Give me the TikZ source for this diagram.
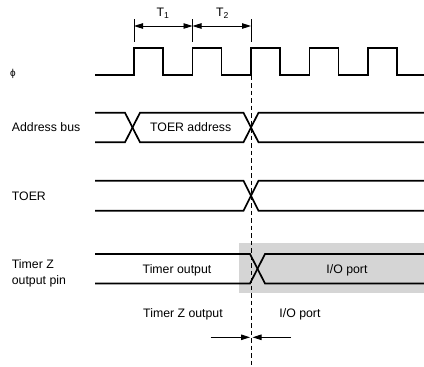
\documentclass[tikz,border=0pt]{standalone}
\usepackage{fontspec}
\setmainfont{Liberation Sans}
\usetikzlibrary{arrows.meta}
\begin{document}
\begin{tikzpicture}[x=1pt,y=-1pt,
  sig/.style={line width=1.7pt,line join=miter},
  dimline/.style={line width=0.9pt},
  dimarrow/.style={line width=0.9pt,{Triangle[length=9pt,width=5.5pt]}-{Triangle[length=9pt,width=5.5pt]}},
  onearrow/.style={line width=0.9pt,-{Triangle[length=9pt,width=5.5pt]}},
  marker/.style={line width=0.9pt,dash pattern=on 4.5pt off 3pt},
  lbl/.style={inner sep=0pt,font=\fontsize{12.3}{16}\selectfont},
  shade/.style={fill=gray!33,draw=none}]
\useasboundingbox (0,0) rectangle (424,367);
% grey region
\fill[shade] (239,243.3) rectangle (424,293.3);
% clock
\draw[sig] (95,74.7)
  \foreach \r in {134,192.5,251,309.5,368}{
    -- (\r,74.7) -- (\r,48) -- ({\r+29},48) -- ({\r+29},74.7) }
  -- (424,74.7);
% dimension lines
\coordinate (d0t) at (134,19); \coordinate (d0b) at (134,42);
\coordinate (d1t) at (192.5,19); \coordinate (d1b) at (192.5,42);
\coordinate (d2t) at (251,19); \coordinate (d2b) at (251,42);
\draw[dimline] (d0t) -- (d0b);
\draw[dimline] (d1t) -- (d1b);
\draw[dimline] (d2t) -- (d2b);
\coordinate (a0) at (134,26); \coordinate (a1) at (192.5,26); \coordinate (a2) at (251,26);
\draw[dimarrow] (a0) -- (a1);
\draw[dimarrow] (a1) -- (a2);
\node[lbl,anchor=base] (t1) at (163,16.5) {T\textsubscript{1}};
\node[lbl,anchor=base] (t2) at (222.5,16.5) {T\textsubscript{2}};
% marker line
\coordinate (mtop) at (251,75.5);
\coordinate (mbot) at (251,367);
\draw[marker] (mtop) -- (mbot);
% address bus
\draw[sig] (95,112.7) -- (125,112.7) -- (140,142.3) -- (243.5,142.3) -- (258.5,112.7) -- (424,112.7);
\draw[sig] (95,142.3) -- (125,142.3) -- (140,112.7) -- (243.5,112.7) -- (258.5,142.3) -- (424,142.3);
% TOER
\draw[sig] (95,180.7) -- (243.5,180.7) -- (258.5,210.7) -- (424,210.7);
\draw[sig] (95,210.7) -- (243.5,210.7) -- (258.5,180.7) -- (424,180.7);
% Timer Z output pin
\draw[sig] (95,254) -- (250,254) -- (265,283.5) -- (424,283.5);
\draw[sig] (95,283.5) -- (250,283.5) -- (265,254) -- (424,254);
% bottom arrows
\coordinate (la) at (210.5,337.3); \coordinate (lt) at (250,337.3);
\coordinate (ra) at (291,337.3); \coordinate (rt) at (252.5,337.3);
\draw[onearrow] (la) -- (lt);
\draw[onearrow] (ra) -- (rt);
% labels
\node[lbl,font=\fontsize{10}{12}\selectfont] (phi) at (13,74) {ϕ};
\node[lbl,anchor=base west] (ab) at (11.7,131.5) {Address bus};
\node[lbl,anchor=base] (toera) at (190.7,131.5) {TOER address};
\node[lbl,anchor=base west] (toer) at (11.7,200.5) {TOER};
\node[lbl,anchor=base west] (tz) at (11.7,268) {Timer Z};
\node[lbl,anchor=base west] (tzp) at (11.7,284) {output pin};
\node[lbl,anchor=base] (to) at (177,273.3) {Timer output};
\node[lbl,anchor=base] (io) at (347,273.3) {I/O port};
\node[lbl,anchor=base] (tzo) at (183,317) {Timer Z output};
\node[lbl,anchor=base] (io2) at (300,317) {I/O port};
\end{tikzpicture}
\end{document}
